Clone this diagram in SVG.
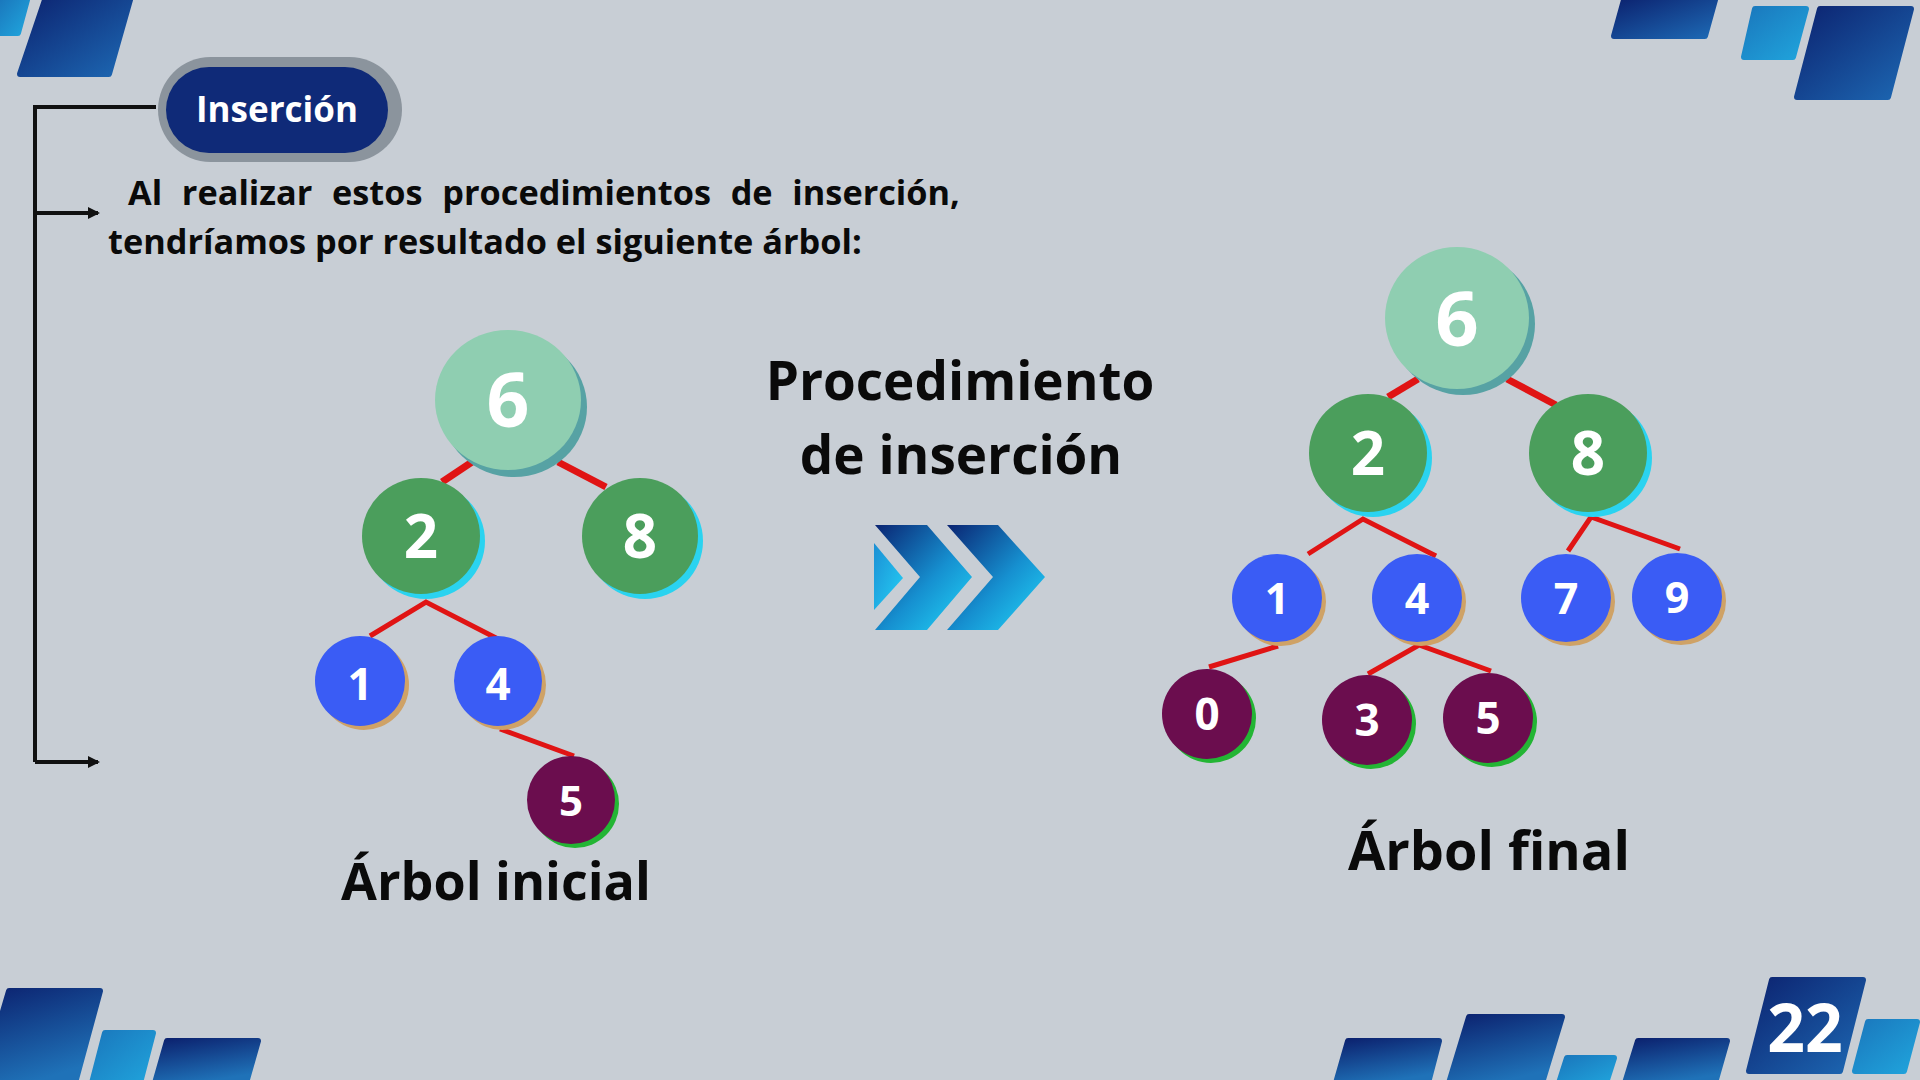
<svg xmlns="http://www.w3.org/2000/svg" width="1920" height="1080" viewBox="0 0 1920 1080">
<defs>
<linearGradient id="gDark" x1="0" y1="0" x2="1" y2="1"><stop offset="0" stop-color="#0c2370"/><stop offset="1" stop-color="#1d68b3"/></linearGradient>
<linearGradient id="gDarkV" x1="0" y1="0" x2="0.4" y2="1"><stop offset="0" stop-color="#0c2370"/><stop offset="1" stop-color="#1f72b8"/></linearGradient>
<linearGradient id="gLight" x1="0" y1="0" x2="1" y2="1"><stop offset="0" stop-color="#1a78bd"/><stop offset="1" stop-color="#20a4dc"/></linearGradient>
<linearGradient id="gArrow" x1="0" y1="0" x2="1" y2="1"><stop offset="0" stop-color="#0a2472"/><stop offset="0.55" stop-color="#1690d0"/><stop offset="1" stop-color="#22d8fa"/></linearGradient>
<linearGradient id="gTri" x1="0" y1="0" x2="1" y2="1"><stop offset="0" stop-color="#1c8fd4"/><stop offset="1" stop-color="#24d0f6"/></linearGradient>
<marker id="ah" markerWidth="12" markerHeight="12" refX="10" refY="6" orient="auto" markerUnits="userSpaceOnUse"><path d="M0,0 L12,6 L0,12 Z" fill="#111"/></marker>
</defs>
<style>
.dec{stroke-linejoin:round;stroke-width:6}
.t{font-family:"Open Sans","Noto Sans","Liberation Sans",sans-serif;font-weight:700}
.num{fill:#fff;text-anchor:middle}
.edge{stroke:#e01414;stroke-width:5;fill:none}
.edgeT{stroke:#e01414;stroke-width:7;fill:none}
.brk{stroke:#111;stroke-width:4;fill:none}
.c6{fill:#8fceb1}.s6{fill:#57a2a4}
.cg{fill:#4b9e5c}.sg{fill:#2ad3f0}
.cb{fill:#3a5cf5}.sb{fill:#cfa266}
.cp{fill:#6b0d4e}.sp{fill:#23b534}
</style>
<rect x="0" y="0" width="1920" height="1080" fill="#c8ced5"/>

<g id="decor">
<polygon class="dec" points="0,0 27,0 18,33 0,33" fill="url(#gLight)" stroke="url(#gLight)"/>
<polygon class="dec" points="45,0 130,0 109,74 20,74" fill="url(#gDark)" stroke="url(#gDark)"/>
<polygon class="dec" points="1624,0 1715,0 1705,36 1614,36" fill="url(#gDark)" stroke="url(#gDark)"/>
<polygon class="dec" points="1755,9 1806,9 1793,57 1744,57" fill="url(#gLight)" stroke="url(#gLight)"/>
<polygon class="dec" points="1820,9 1911,9 1888,97 1797,97" fill="url(#gDark)" stroke="url(#gDark)"/>
<polygon class="dec" points="9,991 100,991 75,1083 -18,1083" fill="url(#gDarkV)" stroke="url(#gDarkV)"/>
<polygon class="dec" points="105,1033 153,1033 140,1083 92,1083" fill="url(#gLight)" stroke="url(#gLight)"/>
<polygon class="dec" points="167,1041 258,1041 246,1083 155,1083" fill="url(#gDarkV)" stroke="url(#gDarkV)"/>
<polygon class="dec" points="1348,1041 1439,1041 1428,1083 1336,1083" fill="url(#gDarkV)" stroke="url(#gDarkV)"/>
<polygon class="dec" points="1469,1017 1562,1017 1542,1083 1449,1083" fill="url(#gDarkV)" stroke="url(#gDarkV)"/>
<polygon class="dec" points="1567,1058 1614,1058 1606,1083 1559,1083" fill="url(#gLight)" stroke="url(#gLight)"/>
<polygon class="dec" points="1638,1041 1727,1041 1715,1083 1625,1083" fill="url(#gDarkV)" stroke="url(#gDarkV)"/>
<polygon class="dec" points="1772,980 1863,980 1840,1071 1749,1071" fill="url(#gDark)" stroke="url(#gDark)"/>
<polygon class="dec" points="1868,1022 1917,1022 1904,1071 1855,1071" fill="url(#gLight)" stroke="url(#gLight)"/>
<text class="t" x="1805" y="1052" font-size="66" fill="#fff" text-anchor="middle">22</text>
</g>

<g id="title">
<rect x="158" y="57" width="244" height="105" rx="52.5" fill="#8b949d"/>
<rect x="166" y="67" width="222" height="86" rx="43" fill="#0f2a78"/>
<text class="t" x="277" y="122" font-size="35" fill="#fff" text-anchor="middle">Inserción</text>
</g>

<g id="bracket">
<path class="brk" d="M156,107 H35 V762"/>
<line class="brk" x1="35" y1="213" x2="98" y2="213" marker-end="url(#ah)"/>
<line class="brk" x1="35" y1="762" x2="98" y2="762" marker-end="url(#ah)"/>
</g>

<g id="paragraph" class="t" font-size="34.3" fill="#0a0a0a">
<text x="128" y="205" word-spacing="10.8">Al realizar estos procedimientos de inserción,</text>
<text x="108" y="254">tendríamos por resultado el siguiente árbol:</text>
</g>

<g id="proc-label" class="t" font-size="53" fill="#0a0a0a" text-anchor="middle">
<text x="960" y="400">Procedimiento</text>
<text x="961" y="474">de inserción</text>
</g>

<g id="chevrons">
<polygon points="874,543 903,578 874,610" fill="url(#gTri)"/>
<polygon points="875,525 927,525 972,577 927,630 875,630 920,577" fill="url(#gArrow)"/>
<polygon points="947,525 998,525 1045,577 998,630 947,630 993,577" fill="url(#gArrow)"/>
</g>

<g id="connectors">
<line class="edgeT" x1="472" y1="462" x2="442" y2="482"/>
<line class="edgeT" x1="558" y1="462" x2="606" y2="487"/>
<polyline class="edge" points="370,636 426,602 498,639"/>
<line class="edge" x1="500" y1="729" x2="574" y2="756"/>
<line class="edgeT" x1="1418" y1="379" x2="1388" y2="397"/>
<line class="edgeT" x1="1507" y1="379" x2="1556" y2="405"/>
<polyline class="edge" points="1308,554 1363,519 1436,556"/>
<polyline class="edge" points="1568,551 1591,517 1680,549"/>
<line class="edge" x1="1278" y1="646" x2="1209" y2="667"/>
<polyline class="edge" points="1368,674 1419,645 1491,671"/>
</g>

<g id="nL6"><ellipse class="s6" cx="514" cy="407" rx="73" ry="70"/><ellipse class="c6" cx="508" cy="400" rx="73" ry="70"/><text class="t num" x="508" y="427" font-size="75">6</text></g>
<g id="nL2"><ellipse class="sg" cx="426" cy="541" rx="59" ry="58"/><ellipse class="cg" cx="421" cy="536" rx="59" ry="58"/><text class="t num" x="421" y="558" font-size="60">2</text></g>
<g id="nL8"><ellipse class="sg" cx="645" cy="541" rx="58" ry="58"/><ellipse class="cg" cx="640" cy="536" rx="58" ry="58"/><text class="t num" x="640" y="558" font-size="60">8</text></g>
<g id="nL1"><ellipse class="sb" cx="364" cy="685" rx="45" ry="45"/><ellipse class="cb" cx="360" cy="681" rx="45" ry="45"/><text class="t num" x="360" y="700" font-size="44">1</text></g>
<g id="nL4"><ellipse class="sb" cx="502" cy="685" rx="44" ry="45"/><ellipse class="cb" cx="498" cy="681" rx="44" ry="45"/><text class="t num" x="498" y="700" font-size="44">4</text></g>
<g id="nL5"><ellipse class="sp" cx="575" cy="804" rx="44" ry="44"/><ellipse class="cp" cx="571" cy="800" rx="44" ry="44"/><text class="t num" x="571" y="816" font-size="42">5</text></g>

<g id="nR6"><ellipse class="s6" cx="1463" cy="324" rx="72" ry="71"/><ellipse class="c6" cx="1457" cy="318" rx="72" ry="71"/><text class="t num" x="1457" y="346" font-size="76">6</text></g>
<g id="nR2"><ellipse class="sg" cx="1373" cy="458" rx="59" ry="59"/><ellipse class="cg" cx="1368" cy="453" rx="59" ry="59"/><text class="t num" x="1368" y="475" font-size="60">2</text></g>
<g id="nR8"><ellipse class="sg" cx="1593" cy="458" rx="59" ry="59"/><ellipse class="cg" cx="1588" cy="453" rx="59" ry="59"/><text class="t num" x="1588" y="475" font-size="60">8</text></g>
<g id="nR1"><ellipse class="sb" cx="1281" cy="602" rx="45" ry="44"/><ellipse class="cb" cx="1277" cy="598" rx="45" ry="44"/><text class="t num" x="1277" y="614" font-size="43">1</text></g>
<g id="nR4"><ellipse class="sb" cx="1421" cy="602" rx="45" ry="44"/><ellipse class="cb" cx="1417" cy="598" rx="45" ry="44"/><text class="t num" x="1417" y="614" font-size="43">4</text></g>
<g id="nR7"><ellipse class="sb" cx="1570" cy="602" rx="45" ry="44"/><ellipse class="cb" cx="1566" cy="598" rx="45" ry="44"/><text class="t num" x="1566" y="614" font-size="43">7</text></g>
<g id="nR9"><ellipse class="sb" cx="1681" cy="601" rx="45" ry="44"/><ellipse class="cb" cx="1677" cy="597" rx="45" ry="44"/><text class="t num" x="1677" y="613" font-size="43">9</text></g>
<g id="nR0"><ellipse class="sp" cx="1211" cy="718" rx="45" ry="45"/><ellipse class="cp" cx="1207" cy="714" rx="45" ry="45"/><text class="t num" x="1207" y="730" font-size="44">0</text></g>
<g id="nR3"><ellipse class="sp" cx="1371" cy="724" rx="45" ry="45"/><ellipse class="cp" cx="1367" cy="720" rx="45" ry="45"/><text class="t num" x="1367" y="736" font-size="44">3</text></g>
<g id="nR5"><ellipse class="sp" cx="1492" cy="722" rx="45" ry="45"/><ellipse class="cp" cx="1488" cy="718" rx="45" ry="45"/><text class="t num" x="1488" y="734" font-size="44">5</text></g>

<g id="labels" class="t" fill="#0a0a0a" text-anchor="middle">
<text x="496" y="900" font-size="52">Árbol inicial</text>
<text x="1489" y="870" font-size="54">Árbol final</text>
</g>
</svg>
